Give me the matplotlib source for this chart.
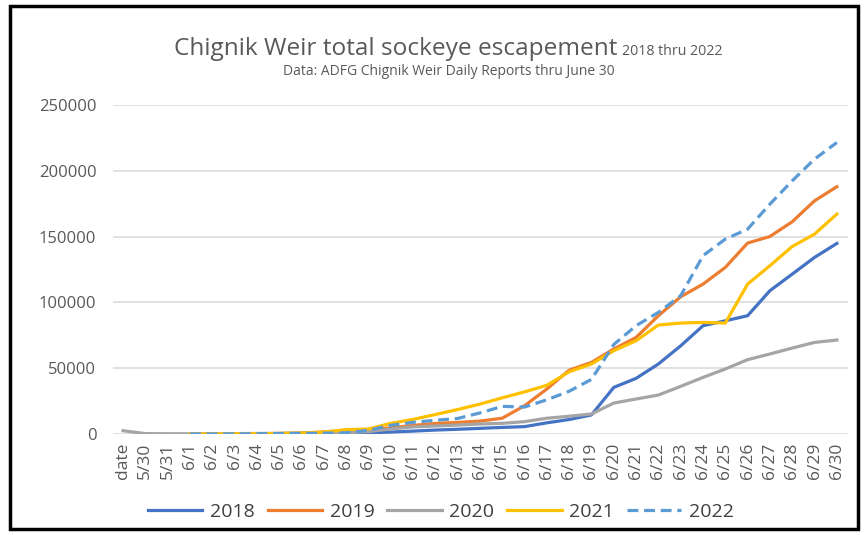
import numpy as np
import matplotlib
matplotlib.use('Agg')
from matplotlib import pyplot as plt
from matplotlib import font_manager
from matplotlib.patches import Rectangle

# pick a narrow font if there is one (the original looks like Calibri)
installed = set(f.name for f in font_manager.fontManager.ttflist)
family = [f for f in ['Liberation Sans Narrow', 'Open Sans', 'DejaVu Sans'] if f in installed]
plt.rcParams['font.family'] = family

nan = np.nan
dates = ['date', '5/30', '5/31'] + ['6/%d' % d for d in range(1, 31)]

y2018 = [nan, nan, nan, 0, 0, 100, 200, 300, 400, 500, 700, 900, 1500,
         2200, 3000, 3600, 4300, 5000, 5600, 8500, 11000, 14500,
         35400, 42300, 53200, 67000, 82300, 86000, 89900, 108900, 121500, 134200, 144800]
y2019 = [nan, nan, nan, 0, 0, 100, 200, 400, 700, 1500, 2500, 3000, 4800,
         6500, 8000, 8800, 9800, 12000, 21500, 34200, 48500, 54400,
         64600, 73400, 89900, 104300, 113900, 126600, 145100, 150100, 161300, 177200, 187900]
y2020 = [2500, 300, 200, 200, 200, 300, 400, 500, 600, 800, 1000, 1800, 3800,
         5400, 6100, 6800, 7600, 8100, 9400, 12000, 13500, 15200,
         23500, 26600, 29600, 36200, 43000, 49400, 56500, 60800, 65300, 69600, 71400]
y2021 = [nan, nan, nan, 0, 0, 100, 200, 400, 700, 1500, 3300, 3800, 8100,
         11100, 14800, 18600, 22700, 27500, 32000, 37000, 47300, 53200,
         63300, 70900, 82800, 84300, 84800, 84300, 113900, 127900, 142500, 151900, 167100]
y2022 = [nan, nan, nan, 0, 0, 100, 200, 300, 400, 600, 900, 2800, 6600,
         8900, 10400, 11800, 16000, 21000, 20500, 26000, 32500, 41500,
         68000, 82300, 92400, 105100, 135500, 148100, 155700, 174700, 192400, 208900, 221500]

gray_txt = '#595959'
x = np.arange(len(dates))

fig = plt.figure(figsize=(8.66, 5.35), dpi=100)
ax = fig.add_axes([113/866, 1-434/535, (848-113)/866, (434-105)/535])

lw = 2.3
ax.plot(x, y2018, color='#4472C4', linewidth=lw, label='2018')
ax.plot(x, y2019, color='#ED7D31', linewidth=lw, label='2019')
ax.plot(x, y2020, color='#A5A5A5', linewidth=lw, label='2020')
ax.plot(x, y2021, color='#FFC000', linewidth=lw, label='2021')
ax.plot(x, y2022, color='#5B9BD5', linewidth=lw, linestyle=(0, (3.4, 1.8)), label='2022')

ax.set_ylim(0, 250000)
ax.set_xlim(-0.45, 32.5)
ax.set_yticks(np.arange(0, 250001, 50000))
ax.set_xticks(x)
ax.set_xticklabels(dates, rotation=90)
ax.tick_params(axis='both', length=0, colors=gray_txt)
ax.tick_params(axis='y', pad=12, labelsize=12)
ax.tick_params(axis='x', pad=6, labelsize=12.5)
ax.grid(axis='y', color='#D9D9D9', linewidth=1.1)
ax.set_axisbelow(True)
for s in ax.spines.values():
    s.set_visible(False)

fig.text(617/866, 1-55/535, 'Chignik Weir total sockeye escapement',
         ha='right', va='baseline', fontsize=17.6, color=gray_txt)
fig.text(622/866, 1-55/535, '2018 thru 2022',
         ha='left', va='baseline', fontsize=10.2, color=gray_txt)
fig.text(449/866, 1-75/535, 'Data: ADFG Chignik Weir Daily Reports thru June 30',
         ha='center', va='baseline', fontsize=10, color=gray_txt)

leg = fig.legend(loc='center', bbox_to_anchor=(441/866, 1-512/535), ncol=5,
                 frameon=False, fontsize=14, handlelength=2.8, handletextpad=0.4,
                 columnspacing=0.65)
for t in leg.get_texts():
    t.set_color('#404040')

# black frame round the whole chart
fig.patches.append(Rectangle((10/866, 6/535), 848/866, 523/535, transform=fig.transFigure,
                             fill=False, edgecolor='black', linewidth=2.5))

fig.savefig('out.png', dpi=100)
